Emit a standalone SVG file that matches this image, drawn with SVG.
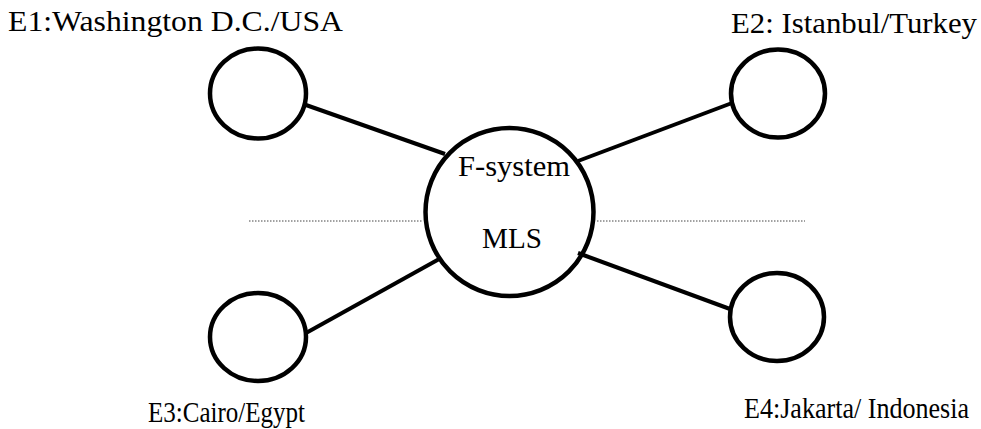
<svg xmlns="http://www.w3.org/2000/svg" width="981" height="429" viewBox="0 0 981 429">
<style>
.n{fill:none;stroke:#000;stroke-width:4.5}
.c{stroke:#000;stroke-width:4;fill:none}
.d{stroke:#444;stroke-width:1;stroke-dasharray:1.5 1.5;fill:none}
text{font-family:"Liberation Serif",serif;font-size:29px;fill:#000}
</style>
<rect width="981" height="429" fill="#fff"/>
<g id="connectors">
<line class="d" x1="249" y1="221" x2="422" y2="221"/>
<line class="d" x1="597" y1="221" x2="805" y2="221"/>
<line class="c" x1="306" y1="105" x2="445" y2="154"/>
<line class="c" x1="578" y1="161" x2="732" y2="103"/>
<line class="c" x1="306" y1="333" x2="441" y2="258"/>
<line class="c" x1="578" y1="253" x2="730" y2="309"/>
</g>
<g id="center"><circle class="n" cx="509.5" cy="212" r="84"/>
<text x="514" y="176" text-anchor="middle" textLength="112" lengthAdjust="spacingAndGlyphs">F-system</text>
<text x="512" y="248" text-anchor="middle" textLength="60" lengthAdjust="spacingAndGlyphs">MLS</text></g>
<g id="e1"><ellipse class="n" cx="258" cy="93.5" rx="48" ry="45"/>
<text x="8" y="31" textLength="335" lengthAdjust="spacingAndGlyphs">E1:Washington D.C./USA</text></g>
<g id="e2"><ellipse class="n" cx="778" cy="93.5" rx="47" ry="44"/>
<text x="731" y="33" textLength="246" lengthAdjust="spacingAndGlyphs">E2: Istanbul/Turkey</text></g>
<g id="e3"><ellipse class="n" cx="258" cy="337" rx="48" ry="44"/>
<text x="148" y="422" textLength="157" lengthAdjust="spacingAndGlyphs">E3:Cairo/Egypt</text></g>
<g id="e4"><ellipse class="n" cx="777" cy="317" rx="47" ry="44"/>
<text x="744" y="418" textLength="225" lengthAdjust="spacingAndGlyphs">E4:Jakarta/ Indonesia</text></g>
</svg>
